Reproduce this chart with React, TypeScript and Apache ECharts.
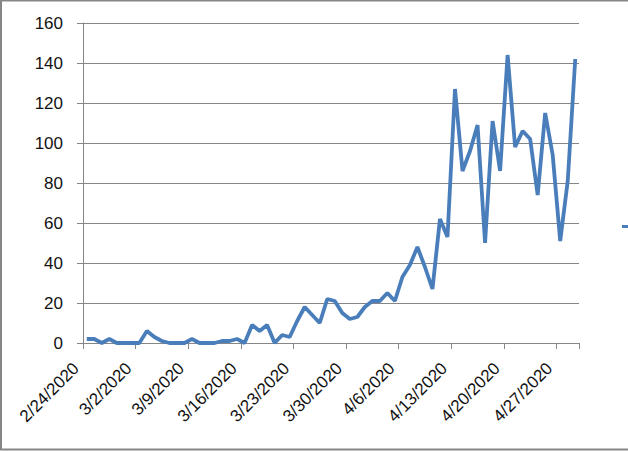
import React, { useEffect, useRef } from "react";
import * as echarts from "echarts";

const dates: string[] = [
  "2/24/2020", "2/25/2020", "2/26/2020", "2/27/2020", "2/28/2020", "2/29/2020",
  "3/1/2020", "3/2/2020", "3/3/2020", "3/4/2020", "3/5/2020", "3/6/2020", "3/7/2020", "3/8/2020",
  "3/9/2020", "3/10/2020", "3/11/2020", "3/12/2020", "3/13/2020", "3/14/2020", "3/15/2020",
  "3/16/2020", "3/17/2020", "3/18/2020", "3/19/2020", "3/20/2020", "3/21/2020", "3/22/2020",
  "3/23/2020", "3/24/2020", "3/25/2020", "3/26/2020", "3/27/2020", "3/28/2020", "3/29/2020",
  "3/30/2020", "3/31/2020", "4/1/2020", "4/2/2020", "4/3/2020", "4/4/2020", "4/5/2020",
  "4/6/2020", "4/7/2020", "4/8/2020", "4/9/2020", "4/10/2020", "4/11/2020", "4/12/2020",
  "4/13/2020", "4/14/2020", "4/15/2020", "4/16/2020", "4/17/2020", "4/18/2020", "4/19/2020",
  "4/20/2020", "4/21/2020", "4/22/2020", "4/23/2020", "4/24/2020", "4/25/2020", "4/26/2020",
  "4/27/2020", "4/28/2020", "4/29/2020",
];

const values: number[] = [
  2, 2, 0, 2, 0, 0, 0, 0, 6, 3, 1, 0, 0, 0, 2, 0,
  0, 0, 1, 1, 2, 0, 9, 6, 9, 0, 4, 3, 11, 18, 14, 10,
  22, 21, 15, 12, 13, 18, 21, 21, 25, 21, 33, 39, 48, 38, 27, 62,
  53, 127, 86, 96, 109, 50, 111, 86, 144, 98, 106, 102, 74, 115, 94, 51, 81, 142,
];

const seriesName = "Cases";
const yMin = 0;
const yMax = 160;
const yStep = 20;

export default function App() {
  const ref = useRef<HTMLDivElement>(null);

  useEffect(() => {
    if (!ref.current) return;
    const chart = echarts.init(ref.current, undefined, { renderer: "svg" });
    const font = "'Liberation Sans', Arial, sans-serif";
    chart.setOption({
      animation: false,
      backgroundColor: "#ffffff",
      grid: { left: 83, top: 23, right: 49, bottom: 109, containLabel: false },
      xAxis: {
        type: "category",
        data: dates,
        boundaryGap: true,
        axisLine: { show: true, lineStyle: { color: "#868686", width: 1 } },
        axisTick: { show: true, interval: 6, length: 6, inside: false, lineStyle: { color: "#868686" } },
        axisLabel: {
          interval: 6,
          rotate: 45,
          margin: 12,
          padding: [0, 15, 0, 0],
          color: "#111111",
          fontSize: 17,
          fontFamily: font,
        },
        splitLine: { show: false },
      },
      yAxis: {
        type: "value",
        min: yMin,
        max: yMax,
        interval: yStep,
        axisLine: { show: true, lineStyle: { color: "#868686", width: 1 } },
        axisTick: { show: true, length: 6, lineStyle: { color: "#868686" } },
        axisLabel: { margin: 20, color: "#111111", fontSize: 17, fontFamily: font },
        splitLine: { show: true, lineStyle: { color: "#868686", width: 1 } },
      },
      series: [
        {
          name: seriesName,
          type: "line",
          data: values,
          symbol: "none",
          lineStyle: { color: "#4A7EBB", width: 3.8 },
          itemStyle: { color: "#4A7EBB" },
        },
      ],
      graphic: [
        {
          type: "rect",
          shape: { x: 1, y: 0.5, width: 640, height: 449 },
          style: { fill: "none", stroke: "#868686", lineWidth: 2 },
          silent: true,
        },
        {
          type: "rect",
          shape: { x: 622, y: 225, width: 7, height: 3 },
          style: { fill: "#4A7EBB" },
          silent: true,
        },
      ],
    });
    return () => chart.dispose();
  }, []);

  return (
    <div
      ref={ref}
      style={{ position: "fixed", left: 0, top: 0, width: 628, height: 452 }}
    />
  );
}
